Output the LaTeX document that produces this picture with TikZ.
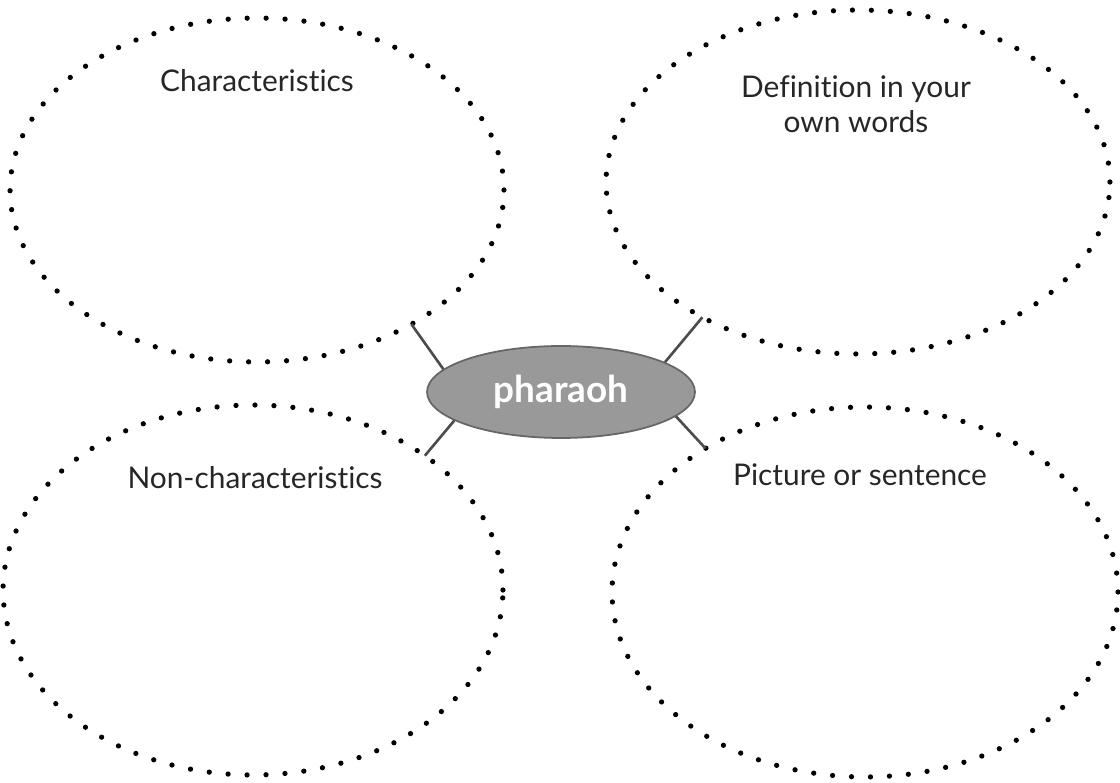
\documentclass[tikz,border=0pt]{standalone}
\usepackage{fontspec}
\setmainfont{Lato}[Ligatures=NoCommon]
\usetikzlibrary{shapes.geometric}

\begin{document}
\begin{tikzpicture}[x=0.02cm,y=-0.02cm,
  bubble/.style={ellipse,draw=black,line width=3pt,line cap=round,
    dash pattern=on 0pt off 10.8pt,inner sep=0pt,outer sep=0pt},
  heading/.style={font=\fontsize{17}{20}\selectfont,text=black!85,align=center},
  spoke/.style={line width=1.5pt,draw=black!70}]
\useasboundingbox (0,0) rectangle (1120,783);
\node[bubble,minimum width=9.88cm,minimum height=6.88cm] (chr) at (257,190) {};
\node[bubble,minimum width=10.08cm,minimum height=6.88cm] (dfn) at (858,182) {};
\node[bubble,minimum width=10.0cm,minimum height=7.4cm] (non) at (253,590) {};
\node[bubble,minimum width=10.12cm,minimum height=7.4cm] (pic) at (865,592) {};
\node[ellipse,fill=black!40,draw=black!60,line width=1pt,inner sep=0pt,
  minimum width=5.36cm,minimum height=1.84cm,text=white,
  font=\bfseries\fontsize{21}{24}\selectfont] (pha) at (561,392) {pharaoh};
\node[heading] at (257,81) {Characteristics};
\node[heading] at (856,104) {Definition in your\\own words};
\node[heading] at (255,478) {Non-characteristics};
\node[heading] at (860,475) {Picture or sentence};
\draw[spoke] (chr.-41) -- (pha.169);
\draw[spoke] (dfn.-139) -- (pha.16);
\draw[spoke] (non.38) -- (pha.195);
\draw[spoke] (pic.138) -- (pha.-12);
\end{tikzpicture}
\end{document}
